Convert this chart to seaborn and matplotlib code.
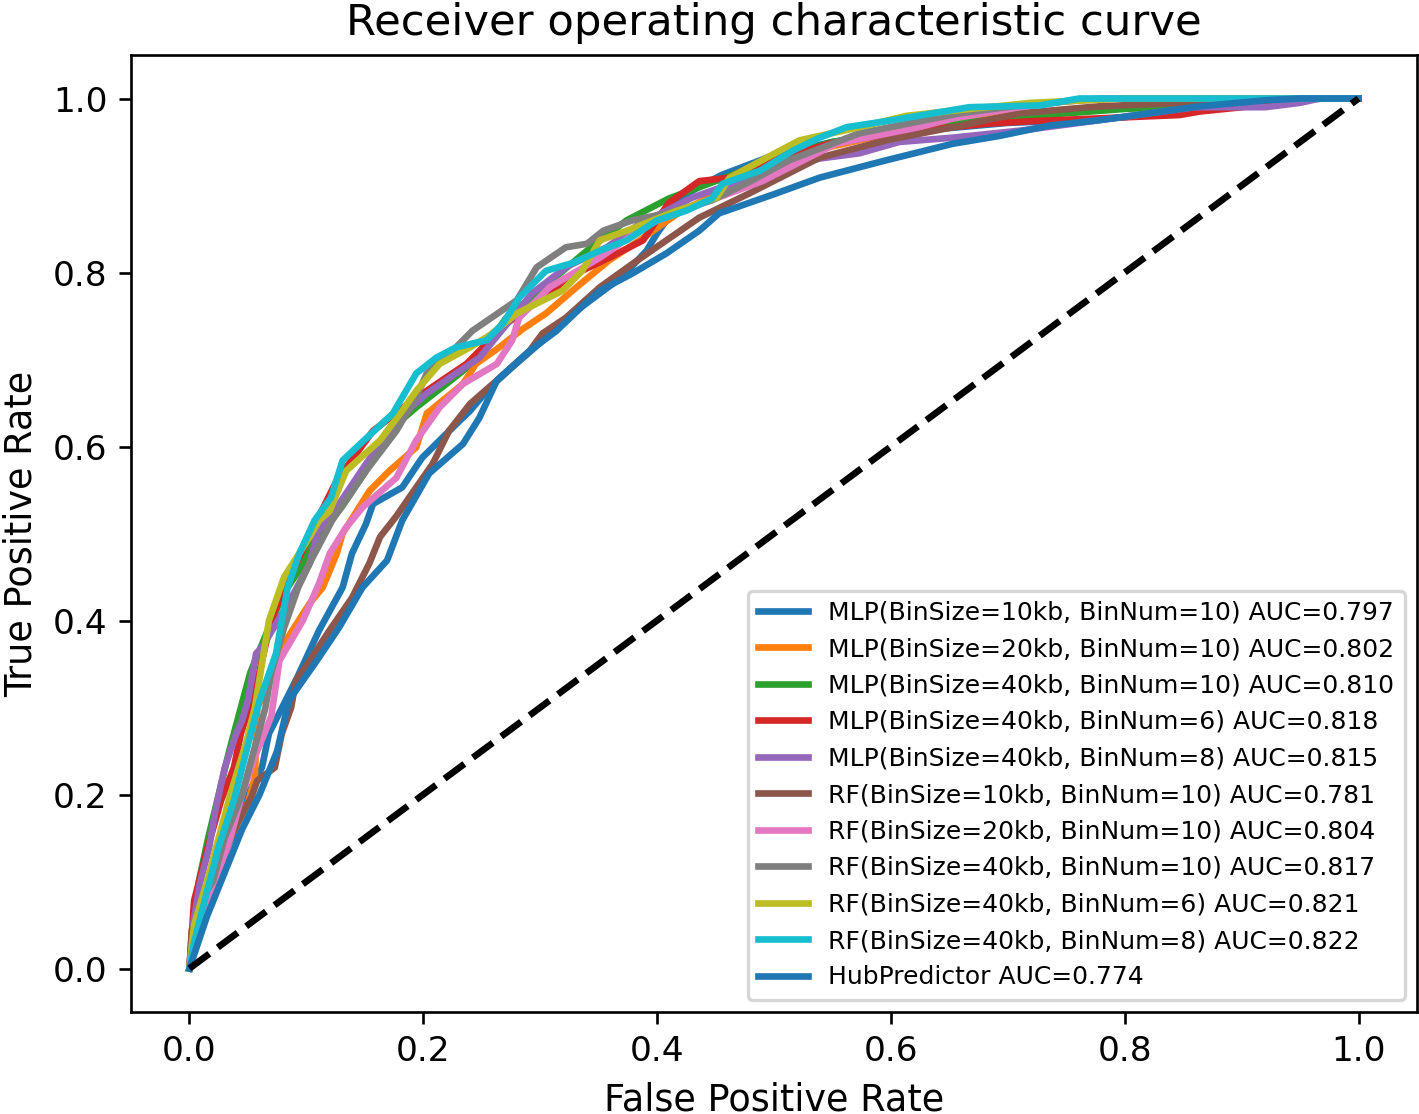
import matplotlib
matplotlib.use("Agg")
import matplotlib.pyplot as plt
import pandas as pd
import seaborn as sns

# ROC curve points (fpr, tpr)
fpr_mlp_10kb_10 = [0, 0.004, 0.015, 0.027, 0.038, 0.047, 0.062, 0.068, 0.092, 0.111, 0.131, 0.139, 0.151,
                   0.157, 0.182, 0.199, 0.220, 0.240, 0.257, 0.276, 0.305, 0.335, 0.370, 0.391, 0.400, 0.408,
                   0.419, 0.455, 0.500, 0.550, 0.600, 0.700, 0.780, 0.850, 0.920, 0.970, 1.0]
tpr_mlp_10kb_10 = [0, 0.032, 0.070, 0.124, 0.155, 0.193, 0.231, 0.270, 0.334, 0.389, 0.438, 0.477, 0.511,
                   0.534, 0.553, 0.587, 0.615, 0.641, 0.668, 0.691, 0.725, 0.760, 0.795, 0.825, 0.845, 0.860,
                   0.886, 0.912, 0.935, 0.950, 0.960, 0.972, 0.976, 0.985, 0.995, 1.0, 1.0]

fpr_mlp_20kb_10 = [0, 0.005, 0.012, 0.022, 0.035, 0.050, 0.056, 0.058, 0.065, 0.074, 0.084, 0.103, 0.114,
                   0.126, 0.131, 0.154, 0.171, 0.194, 0.203, 0.234, 0.245, 0.263, 0.285, 0.305, 0.331, 0.359,
                   0.385, 0.420, 0.450, 0.500, 0.550, 0.600, 0.700, 0.750, 0.800, 0.900, 0.950, 1.0]
tpr_mlp_20kb_10 = [0, 0.030, 0.070, 0.100, 0.150, 0.190, 0.220, 0.300, 0.320, 0.354, 0.380, 0.420, 0.438,
                   0.477, 0.500, 0.549, 0.572, 0.599, 0.638, 0.672, 0.695, 0.712, 0.735, 0.753, 0.783, 0.814,
                   0.837, 0.870, 0.890, 0.925, 0.945, 0.960, 0.982, 0.986, 0.990, 0.995, 1.0, 1.0]

fpr_mlp_40kb_10 = [0, 0.003, 0.008, 0.016, 0.025, 0.034, 0.044, 0.052, 0.068, 0.080, 0.095, 0.105, 0.130,
                   0.150, 0.168, 0.194, 0.216, 0.234, 0.251, 0.271, 0.300, 0.340, 0.374, 0.410, 0.450, 0.500,
                   0.550, 0.600, 0.700, 0.800, 0.900, 0.950, 1.0]
tpr_mlp_40kb_10 = [0, 0.040, 0.100, 0.150, 0.200, 0.250, 0.300, 0.340, 0.392, 0.430, 0.460, 0.488, 0.530,
                   0.570, 0.615, 0.645, 0.668, 0.687, 0.710, 0.748, 0.780, 0.825, 0.860, 0.885, 0.905, 0.930,
                   0.950, 0.962, 0.978, 0.988, 0.994, 1.0, 1.0]

fpr_mlp_40kb_6 = [0, 0.002, 0.004, 0.015, 0.027, 0.038, 0.044, 0.053, 0.058, 0.070, 0.079, 0.098, 0.109,
                  0.126, 0.157, 0.191, 0.216, 0.237, 0.270, 0.302, 0.331, 0.359, 0.388, 0.410, 0.436, 0.462,
                  0.479, 0.547, 0.607, 0.682, 0.721, 0.847, 0.864, 0.900, 0.950, 1.0]
tpr_mlp_40kb_6 = [0, 0.040, 0.078, 0.136, 0.193, 0.231, 0.270, 0.308, 0.331, 0.400, 0.431, 0.484, 0.515,
                  0.561, 0.618, 0.653, 0.676, 0.695, 0.740, 0.771, 0.799, 0.817, 0.837, 0.880, 0.905, 0.909,
                  0.921, 0.948, 0.961, 0.971, 0.974, 0.981, 0.985, 0.990, 1.0, 1.0]

fpr_mlp_40kb_8 = [0, 0.003, 0.009, 0.017, 0.022, 0.030, 0.040, 0.045, 0.050, 0.057, 0.062, 0.086, 0.103,
                  0.110, 0.120, 0.151, 0.177, 0.203, 0.228, 0.248, 0.293, 0.322, 0.357, 0.385, 0.408, 0.430,
                  0.470, 0.511, 0.539, 0.573, 0.607, 0.653, 0.710, 0.750, 0.860, 0.920, 0.950, 0.967, 1.0]
tpr_mlp_40kb_8 = [0, 0.050, 0.098, 0.140, 0.180, 0.230, 0.270, 0.285, 0.308, 0.362, 0.369, 0.423, 0.466,
                  0.503, 0.518, 0.580, 0.630, 0.661, 0.684, 0.702, 0.776, 0.806, 0.829, 0.856, 0.871, 0.886,
                  0.905, 0.921, 0.931, 0.937, 0.950, 0.955, 0.963, 0.970, 0.990, 0.990, 0.995, 1.0, 1.0]

fpr_rf_10kb_10 = [0, 0.002, 0.024, 0.033, 0.041, 0.053, 0.058, 0.073, 0.079, 0.087, 0.091, 0.103, 0.120,
                  0.139, 0.154, 0.163, 0.177, 0.194, 0.208, 0.222, 0.240, 0.263, 0.291, 0.302, 0.322, 0.351,
                  0.379, 0.408, 0.436, 0.479, 0.539, 0.596, 0.653, 0.710, 0.778, 0.850, 0.900, 1.0]
tpr_rf_10kb_10 = [0, 0.044, 0.098, 0.144, 0.167, 0.197, 0.216, 0.231, 0.270, 0.300, 0.331, 0.354, 0.389,
                  0.426, 0.466, 0.496, 0.520, 0.553, 0.580, 0.618, 0.649, 0.676, 0.710, 0.730, 0.748, 0.783,
                  0.810, 0.837, 0.863, 0.891, 0.932, 0.952, 0.967, 0.983, 0.991, 0.995, 1.0, 1.0]

fpr_rf_20kb_10 = [0, 0.005, 0.012, 0.022, 0.035, 0.045, 0.055, 0.070, 0.077, 0.097, 0.111, 0.120, 0.134,
                  0.148, 0.177, 0.194, 0.214, 0.234, 0.263, 0.276, 0.282, 0.308, 0.351, 0.393, 0.440, 0.490,
                  0.553, 0.624, 0.653, 0.710, 0.750, 0.800, 1.0]
tpr_rf_20kb_10 = [0, 0.030, 0.060, 0.100, 0.150, 0.200, 0.240, 0.290, 0.354, 0.400, 0.443, 0.477, 0.507,
                  0.530, 0.564, 0.607, 0.645, 0.672, 0.695, 0.722, 0.748, 0.783, 0.817, 0.856, 0.880, 0.905,
                  0.948, 0.967, 0.977, 0.990, 0.997, 1.0, 1.0]

fpr_rf_40kb_10 = [0, 0.003, 0.010, 0.020, 0.030, 0.045, 0.055, 0.065, 0.070, 0.081, 0.093, 0.104, 0.113,
                  0.122, 0.151, 0.177, 0.194, 0.203, 0.228, 0.242, 0.280, 0.297, 0.322, 0.340, 0.354, 0.379,
                  0.408, 0.447, 0.480, 0.513, 0.573, 0.659, 0.710, 0.780, 1.0]
tpr_rf_40kb_10 = [0, 0.040, 0.080, 0.100, 0.150, 0.200, 0.250, 0.300, 0.340, 0.392, 0.438, 0.469, 0.492,
                  0.515, 0.572, 0.618, 0.657, 0.684, 0.714, 0.733, 0.768, 0.806, 0.829, 0.833, 0.848, 0.860,
                  0.868, 0.883, 0.905, 0.929, 0.960, 0.983, 0.992, 1.0, 1.0]

fpr_rf_40kb_6 = [0, 0.004, 0.015, 0.035, 0.049, 0.056, 0.068, 0.081, 0.100, 0.111, 0.120, 0.134, 0.163,
                 0.182, 0.194, 0.214, 0.240, 0.257, 0.280, 0.319, 0.336, 0.351, 0.374, 0.417, 0.451, 0.462,
                 0.505, 0.522, 0.573, 0.613, 0.653, 0.720, 0.800, 1.0]
tpr_rf_40kb_6 = [0, 0.050, 0.100, 0.200, 0.262, 0.300, 0.400, 0.450, 0.490, 0.515, 0.526, 0.572, 0.607,
                 0.641, 0.664, 0.695, 0.714, 0.728, 0.753, 0.779, 0.802, 0.837, 0.848, 0.871, 0.886, 0.909,
                 0.940, 0.952, 0.967, 0.980, 0.986, 0.995, 1.0, 1.0]

fpr_rf_40kb_8 = [0, 0.004, 0.013, 0.025, 0.038, 0.051, 0.060, 0.074, 0.084, 0.094, 0.107, 0.121, 0.131,
                 0.174, 0.194, 0.211, 0.228, 0.254, 0.268, 0.282, 0.305, 0.328, 0.351, 0.374, 0.400, 0.425,
                 0.447, 0.456, 0.488, 0.516, 0.539, 0.562, 0.601, 0.636, 0.667, 0.727, 0.761, 1.0]
tpr_rf_40kb_8 = [0, 0.030, 0.078, 0.140, 0.193, 0.262, 0.308, 0.362, 0.438, 0.477, 0.515, 0.541, 0.584,
                 0.638, 0.684, 0.702, 0.714, 0.722, 0.741, 0.771, 0.802, 0.811, 0.825, 0.837, 0.860, 0.871,
                 0.885, 0.902, 0.917, 0.940, 0.955, 0.967, 0.975, 0.983, 0.990, 0.992, 1.0, 1.0]

fpr_hub = [0, 0.005, 0.015, 0.030, 0.045, 0.060, 0.075, 0.085, 0.109, 0.128, 0.148, 0.169, 0.182, 0.205,
           0.234, 0.248, 0.263, 0.291, 0.314, 0.335, 0.351, 0.379, 0.408, 0.436, 0.453, 0.500, 0.539, 0.596,
           0.653, 0.693, 0.736, 0.778, 0.821, 0.864, 0.921, 0.950, 1.0]
tpr_hub = [0, 0.020, 0.060, 0.110, 0.160, 0.200, 0.250, 0.308, 0.354, 0.392, 0.438, 0.469, 0.515, 0.569,
           0.603, 0.633, 0.676, 0.710, 0.733, 0.760, 0.779, 0.799, 0.822, 0.848, 0.868, 0.890, 0.909, 0.929,
           0.948, 0.957, 0.969, 0.975, 0.983, 0.991, 0.998, 1.0, 1.0]

labels = [
    "MLP(BinSize=10kb, BinNum=10) AUC=0.797",
    "MLP(BinSize=20kb, BinNum=10) AUC=0.802",
    "MLP(BinSize=40kb, BinNum=10) AUC=0.810",
    "MLP(BinSize=40kb, BinNum=6) AUC=0.818",
    "MLP(BinSize=40kb, BinNum=8) AUC=0.815",
    "RF(BinSize=10kb, BinNum=10) AUC=0.781",
    "RF(BinSize=20kb, BinNum=10) AUC=0.804",
    "RF(BinSize=40kb, BinNum=10) AUC=0.817",
    "RF(BinSize=40kb, BinNum=6) AUC=0.821",
    "RF(BinSize=40kb, BinNum=8) AUC=0.822",
    "HubPredictor AUC=0.774",
]

curves = [
    (fpr_mlp_10kb_10, tpr_mlp_10kb_10),
    (fpr_mlp_20kb_10, tpr_mlp_20kb_10),
    (fpr_mlp_40kb_10, tpr_mlp_40kb_10),
    (fpr_mlp_40kb_6, tpr_mlp_40kb_6),
    (fpr_mlp_40kb_8, tpr_mlp_40kb_8),
    (fpr_rf_10kb_10, tpr_rf_10kb_10),
    (fpr_rf_20kb_10, tpr_rf_20kb_10),
    (fpr_rf_40kb_10, tpr_rf_40kb_10),
    (fpr_rf_40kb_6, tpr_rf_40kb_6),
    (fpr_rf_40kb_8, tpr_rf_40kb_8),
    (fpr_hub, tpr_hub),
]

# tab10 cycle, the 11th curve wraps back to blue
colors = sns.color_palette("tab10", 10)
colors = colors + colors[:1]

dpi = 240
fig = plt.figure(figsize=(1419 / dpi, 1114 / dpi), dpi=dpi)
ax = fig.add_axes([131 / 1419, 1 - 1012 / 1114, (1417 - 131) / 1419, (1012 - 55) / 1114])

for (fpr, tpr), label, color in zip(curves, labels, colors):
    df = pd.DataFrame({"fpr": fpr, "tpr": tpr})
    sns.lineplot(data=df, x="fpr", y="tpr", ax=ax, color=color, lw=2,
                 sort=False, estimator=None, label=label)

# chance line
sns.lineplot(x=[0, 1], y=[0, 1], ax=ax, color="black", lw=2, linestyle="--",
             sort=False, estimator=None)

ax.set_xticks([0.0, 0.2, 0.4, 0.6, 0.8, 1.0])
ax.set_yticks([0.0, 0.2, 0.4, 0.6, 0.8, 1.0])
ax.tick_params(labelsize=10.3)
ax.set_xlabel("False Positive Rate", fontsize=11)
ax.set_ylabel("True Positive Rate", fontsize=11)
ax.set_title("Receiver operating characteristic curve", fontsize=13)
ax.legend(loc="lower right", fontsize=7.5)

fig.savefig("out.png", dpi=dpi)
